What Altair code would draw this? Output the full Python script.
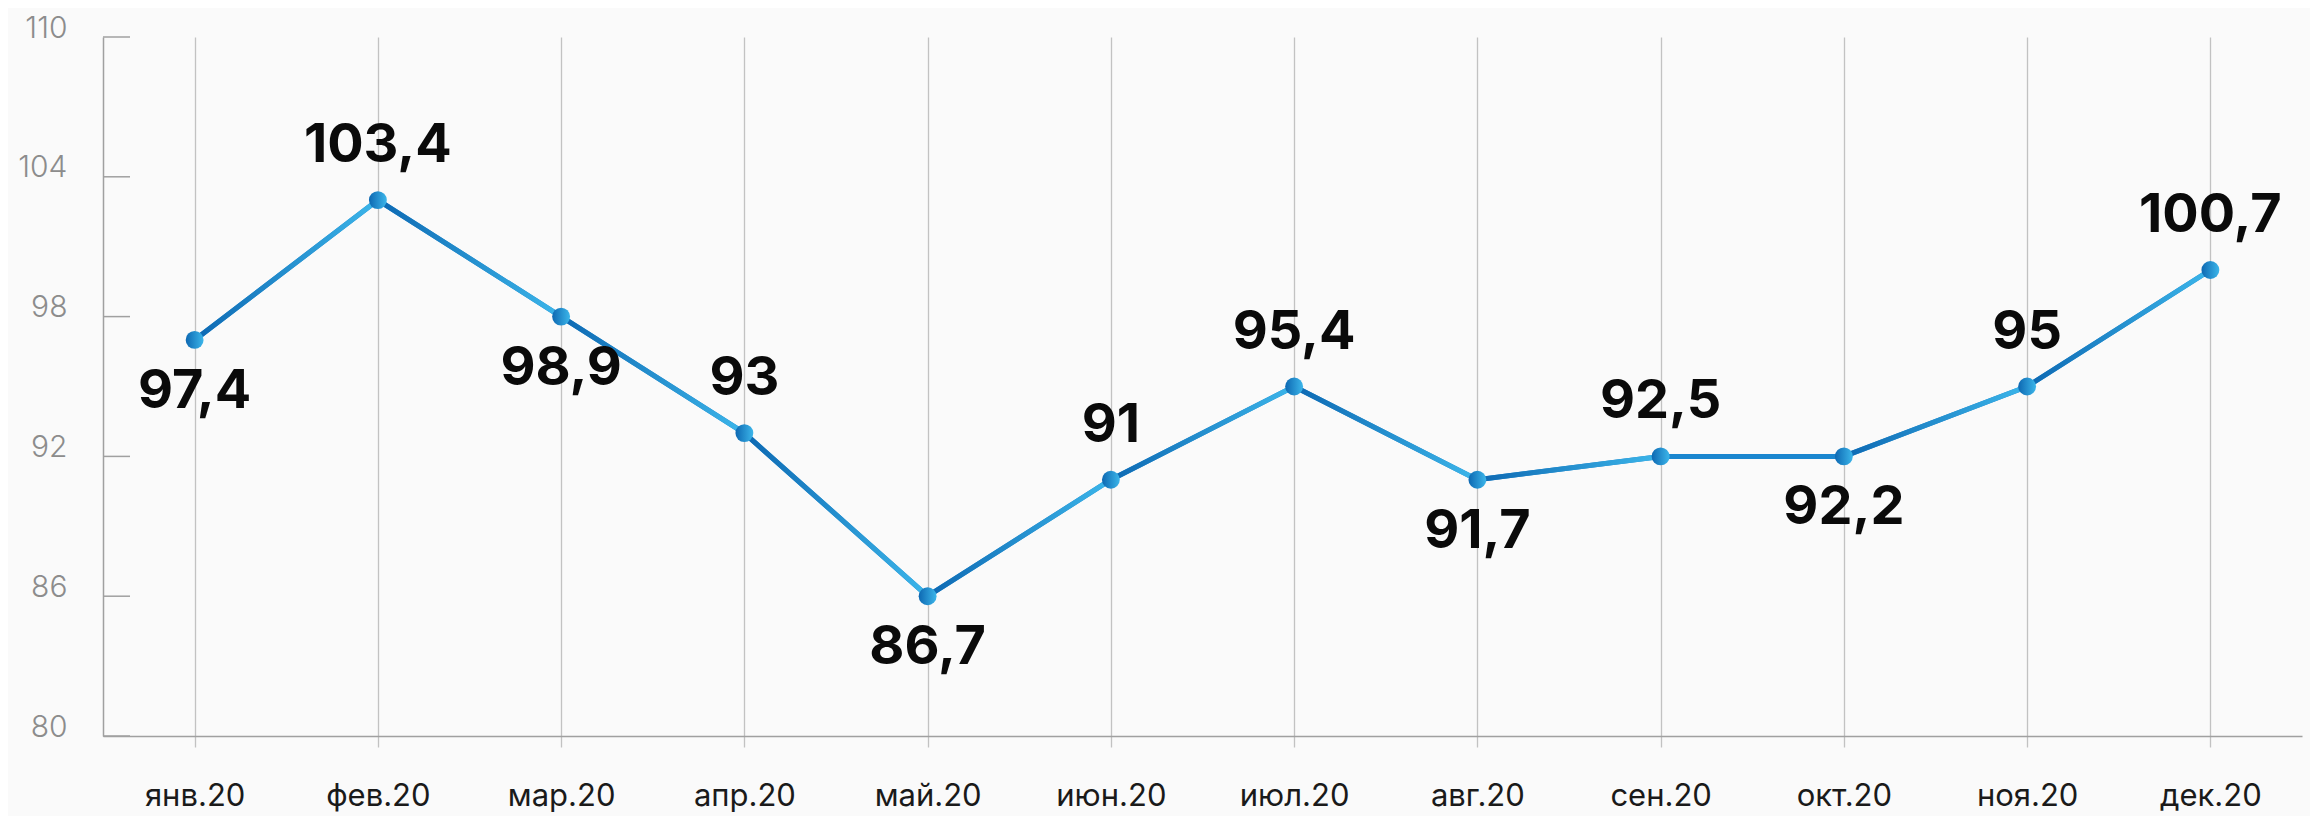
import altair as alt
import pandas as pd

# ---- data ----
months = ["янв.20", "фев.20", "мар.20", "апр.20", "май.20", "июн.20",
          "июл.20", "авг.20", "сен.20", "окт.20", "ноя.20", "дек.20"]
label_text = ["97,4", "103,4", "98,9", "93", "86,7", "91",
              "95,4", "91,7", "92,5", "92,2", "95", "100,7"]
# vertical positions of the markers as drawn in the reference
plotted = [97, 103, 98, 93, 86, 91, 95, 91, 92, 92, 95, 100]
y_ticks = [80, 86, 92, 98, 104, 110]

below_idx = {0, 2, 4, 7, 9}

pts = pd.DataFrame({
    "month": months,
    "value": plotted,
    "label": label_text,
    "place": ["below" if i in below_idx else "above" for i in range(len(months))],
})

seg_rows = []
for i in range(len(months) - 1):
    seg_rows.append({"month": months[i], "value": plotted[i], "seg": i})
    seg_rows.append({"month": months[i + 1], "value": plotted[i + 1], "seg": i})
segs = pd.DataFrame(seg_rows)

ticks_df = pd.DataFrame({"t": y_ticks})

DARK = "#0d68b2"
LIGHT = "#3cb6ea"
grad = alt.LinearGradient(
    gradient="linear",
    stops=[alt.GradientStop(offset=0, color=DARK), alt.GradientStop(offset=1, color=LIGHT)],
    x1=0, x2=1, y1=0, y2=0,
)

x_enc = alt.X(
    "month:N", sort=months,
    scale=alt.Scale(type="point", padding=0.5),
    axis=alt.Axis(
        title=None, labelAngle=0, grid=True, gridColor="#c2c2c2", gridWidth=1.3,
        ticks=True, tickColor="#c2c2c2", tickWidth=1.3, tickSize=11,
        domain=True, domainColor="#a0a0a0", domainWidth=1.5,
        labelFont="Inter", labelFontSize=31, labelColor="#1a1a1a",
        labelPadding=34,
    ),
)
y_scale = alt.Scale(domain=[80, 110], nice=False, zero=False)
y_enc = alt.Y(
    "value:Q", scale=y_scale,
    axis=alt.Axis(
        title=None, values=y_ticks, grid=False, ticks=False,
        domain=True, domainColor="#a0a0a0", domainWidth=1.5,
        labelFont="Inter", labelFontSize=30, labelFontWeight=300,
        labelColor="#8c8c8c", labelPadding=36, labelBaseline="alphabetic",
    ),
)

base_line = alt.Chart(pts).mark_line(strokeWidth=5, color="#1a86cf").encode(x=x_enc, y=y_enc)

seg_lines = alt.Chart(segs).mark_line(strokeWidth=5, stroke=grad).encode(
    x=alt.X("month:N", sort=months),
    y=alt.Y("value:Q", scale=y_scale),
    detail="seg:N",
)

inner_ticks = alt.Chart(ticks_df).mark_rule(color="#a0a0a0", strokeWidth=1.5).encode(
    y=alt.Y("t:Q", scale=y_scale),
    x=alt.value(0), x2=alt.value(27),
)

dots = alt.Chart(pts).mark_circle(size=320, opacity=1, fill=grad).encode(
    x=alt.X("month:N", sort=months),
    y=alt.Y("value:Q", scale=y_scale),
)

text_style = dict(font="Inter", fontSize=54, fontWeight=700, color="#0a0a0a",
                  align="center", baseline="alphabetic")

labels_above = alt.Chart(pts).transform_filter(alt.datum.place == "above").mark_text(
    dy=-38, **text_style
).encode(x=alt.X("month:N", sort=months), y=alt.Y("value:Q", scale=y_scale), text="label:N")

labels_below = alt.Chart(pts).transform_filter(alt.datum.place == "below").mark_text(
    dy=68, **text_style
).encode(x=alt.X("month:N", sort=months), y=alt.Y("value:Q", scale=y_scale), text="label:N")

chart = alt.layer(
    inner_ticks, base_line, seg_lines, dots, labels_above, labels_below
).properties(
    width=2199, height=699,
    autosize=alt.AutoSizeParams(type="none"),
    padding={"left": 95, "top": 29, "right": 8, "bottom": 80},
    background="#fafafa",
).configure_view(stroke=None)

chart.save("out.html", embed_options={"renderer": "svg", "actions": False})
